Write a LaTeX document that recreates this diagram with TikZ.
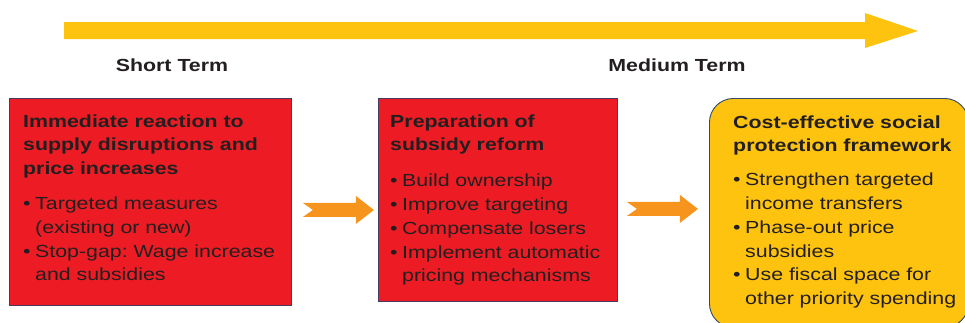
\documentclass[tikz,border=0pt]{standalone}
\usepackage{fontspec}
\setmainfont{Liberation Sans}[FakeStretch=1.22]
\usetikzlibrary{positioning}
\definecolor{barred}{HTML}{ED1C24}
\definecolor{bargold}{HTML}{FDC30F}
\definecolor{barorange}{HTML}{F7941E}
\definecolor{inkgray}{HTML}{231F20}
\definecolor{rededge}{HTML}{4A3A5E}
\definecolor{goldedge}{HTML}{2F4A6A}
\frenchspacing
\newcommand{\bpt}[1]{\par\noindent\hangindent=12pt\hangafter=1\makebox[12pt][l]{\textbullet}#1}
\begin{document}
\begin{tikzpicture}[x=1pt,y=-1pt,
    phase/.style={draw=rededge,line width=0.9pt,fill=barred,anchor=north west,inner sep=0pt},
    goal/.style={draw=goldedge,line width=0.9pt,fill=bargold,rounded corners=24pt,anchor=north west,inner sep=0pt},
    body/.style={anchor=base west,inner sep=0pt,text=inkgray,text width=#1,align=left,font=\fontsize{17.5}{23.8}\selectfont},
    term/.style={text=inkgray,font=\fontsize{17.5}{21}\selectfont\bfseries},
    chevron/.pic={\fill[barorange] (0,-7) -- (53,-7) -- (53,-14) -- (71,0) -- (53,14) -- (53,7) -- (0,7) -- (10,0) -- cycle;}]
  \useasboundingbox (0,0) rectangle (965,322);
  \fill[bargold] (64,22) -- (865,22) -- (865,13) -- (918,31) -- (865,48) -- (865,39) -- (64,39) -- cycle;
  \node[term] (short) at (172,65) {Short Term};
  \node[term] (medium) at (677,65) {Medium Term};
  \node[phase,minimum width=282pt,minimum height=207pt] (react) at (9,98) {};
  \node[phase,minimum width=239pt,minimum height=203pt] (prep) at (378,98) {};
  \node[goal,minimum width=259pt,minimum height=229pt] (frame) at (709,98) {};
  \node[body=265pt] (react text) at (23,127)
    {\textbf{Immediate reaction to\\supply disruptions and\\price increases}\par\vspace{11pt}
     \bpt{Targeted measures\newline(existing or new)}
     \bpt{Stop-gap: Wage increase\newline and subsidies}\par};
  \node[body=225pt] (prep text) at (390,127)
    {\textbf{Preparation of\\subsidy reform}\par\vspace{12pt}
     \bpt{Build ownership}
     \bpt{Improve targeting}
     \bpt{Compensate losers}
     \bpt{Implement automatic\newline pricing mechanisms}\par};
  \node[body=230pt] (frame text) at (733,128)
    {\textbf{Cost-effective social\\protection framework}\par\vspace{10pt}
     \bpt{Strengthen targeted\newline income transfers}
     \bpt{Phase-out price\newline subsidies}
     \bpt{Use fiscal space for\newline other priority spending}\par};
  \path (react.east) ++(11,8) pic {chevron};
  \path (prep.east) ++(9,9) pic {chevron};
\end{tikzpicture}
\end{document}
